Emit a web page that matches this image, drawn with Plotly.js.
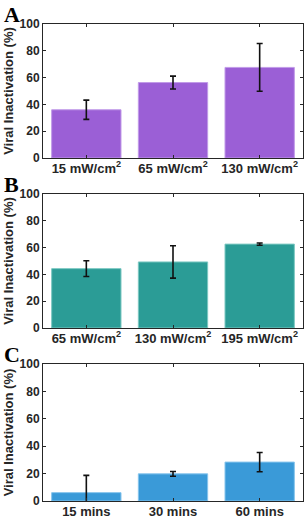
<!DOCTYPE html>
<html>
<head>
<meta charset="utf-8">
<script src="https://cdn.plot.ly/plotly-3.0.1.min.js"></script>
<style>html,body{margin:0;padding:0;background:#fff;}#chart{width:307px;height:519px;}</style>
</head>
<body>
<div id="chart"></div>
<script>
const catsA = ["15 mW/cm<sup>2</sup>", "65 mW/cm<sup>2</sup>", "130 mW/cm<sup>2</sup>"];
const valsA = [36, 56.3, 67.6];
const errA = [7.2, 4.8, 17.8];

const catsB = ["65 mW/cm<sup>2</sup>", "130 mW/cm<sup>2</sup>", "195 mW/cm<sup>2</sup>"];
const valsB = [44.3, 49.3, 62.6];
const errB = [5.9, 12.1, 0.8];

const catsC = ["15 mins", "30 mins", "60 mins"];
const valsC = [6.1, 19.8, 28.4];
const errC = [12.6, 1.7, 7];

const panelLabels = ["A", "B", "C"];
const yTitle = "Viral Inactivation (%)";

const colors = ["#9b5fd6", "#2b9c96", "#3a9ad8"];
const edges = ["#c19be8", "#7cc8c2", "#86c4ec"];

function barTrace(cats, vals, errs, i) {
  const sfx = i === 0 ? "" : String(i + 1);
  return {
    type: "bar",
    x: [1, 2, 3],
    y: vals,
    width: 0.8,
    xaxis: "x" + sfx,
    yaxis: "y" + sfx,
    marker: {color: colors[i], line: {color: edges[i], width: 1}},
    error_y: {type: "data", array: errs, visible: true, color: "#111", thickness: 1.6, width: 3},
    hoverinfo: "skip",
    showlegend: false
  };
}

const allCats = [catsA, catsB, catsC];
const data = [barTrace(catsA, valsA, errA, 0), barTrace(catsB, valsB, errB, 1), barTrace(catsC, valsC, errC, 2)];

const H = 519;
const boxes = [[24, 158], [194, 328], [364, 501]];
const xDom = [43 / 307, 303 / 307];
const FONT = "Liberation Sans, Arial, sans-serif";

const layout = {
  width: 307, height: 519,
  margin: {l: 0, r: 0, t: 0, b: 0},
  paper_bgcolor: "#fff", plot_bgcolor: "#fff",
  font: {family: FONT, color: "#262626", size: 12},
  annotations: []
};

boxes.forEach((b, i) => {
  const sfx = i === 0 ? "" : String(i + 1);
  const dom = [(H - b[1]) / H, (H - b[0]) / H];
  layout["xaxis" + sfx] = {
    domain: xDom, anchor: "y" + sfx,
    range: [0.5, 3.5], tickmode: "array", tickvals: [1, 2, 3], ticktext: allCats[i],
    ticks: "inside", ticklen: 3, tickwidth: 1, tickcolor: "#262626",
    ticklabelstandoff: -2,
    showline: true, linecolor: "#262626", linewidth: 1, mirror: "ticks",
    showgrid: false, zeroline: false,
    tickfont: {size: 13, family: FONT, color: "#262626", weight: "bold"}
  };
  layout["yaxis" + sfx] = {
    domain: dom, anchor: "x" + sfx,
    range: [0, 100], dtick: 20, tick0: 0,
    ticks: "inside", ticklen: 3, tickwidth: 1, tickcolor: "#262626",
    showline: true, linecolor: "#262626", linewidth: 1, mirror: "ticks",
    showgrid: false, zeroline: false,
    tickfont: {size: 12, family: FONT, color: "#262626", weight: "bold"},
    title: {text: yTitle, standoff: 3, font: {size: 13, family: FONT, color: "#262626", weight: "bold"}}
  };
  layout.annotations.push({
    text: panelLabels[i], xref: "paper", yref: "paper",
    x: 2 / 307, y: (H - (b[0] - 24)) / H, xanchor: "left", yanchor: "top",
    showarrow: false,
    font: {size: 22, family: "Liberation Serif, Times New Roman, serif", color: "#000", weight: "bold"}
  });
});

Plotly.newPlot("chart", data, layout, {staticPlot: true, displayModeBar: false});
</script>
</body>
</html>
